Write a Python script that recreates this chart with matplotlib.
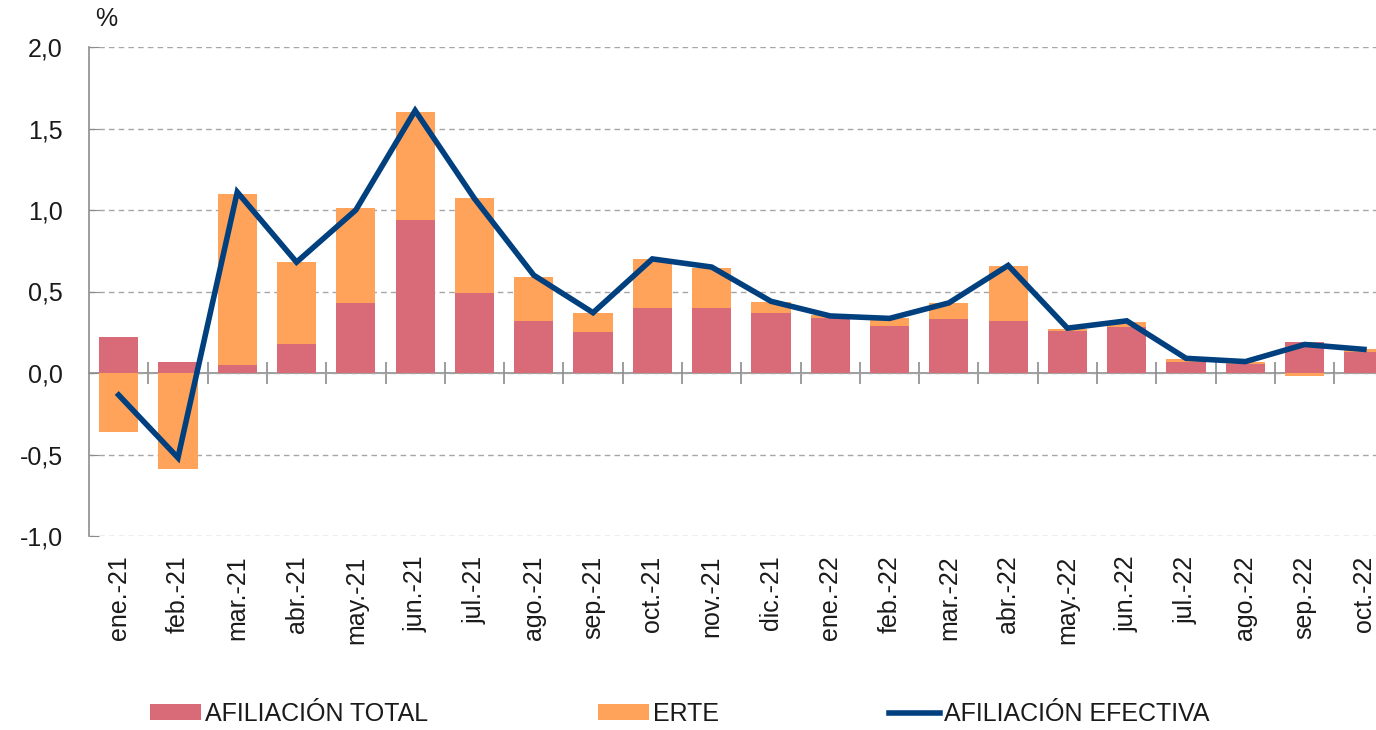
import numpy as np
import matplotlib
matplotlib.use('Agg')
import matplotlib.pyplot as plt
from matplotlib.ticker import FuncFormatter, FixedLocator

plt.rcParams['font.family'] = ['Liberation Sans', 'DejaVu Sans']

months = ['ene.-21', 'feb.-21', 'mar.-21', 'abr.-21', 'may.-21', 'jun.-21',
          'jul.-21', 'ago.-21', 'sep.-21', 'oct.-21', 'nov.-21', 'dic.-21',
          'ene.-22', 'feb.-22', 'mar.-22', 'abr.-22', 'may.-22', 'jun.-22',
          'jul.-22', 'ago.-22', 'sep.-22', 'oct.-22']
afiliacion_total = [0.22, 0.07, 0.05, 0.18, 0.43, 0.94, 0.49, 0.32, 0.25, 0.40,
                    0.40, 0.37, 0.34, 0.29, 0.33, 0.32, 0.26, 0.28, 0.065, 0.055,
                    0.19, 0.13]
erte = [-0.365, -0.59, 1.05, 0.50, 0.58, 0.66, 0.585, 0.27, 0.12, 0.30,
        0.245, 0.065, 0.014, 0.05, 0.10, 0.337, 0.012, 0.03, 0.02, 0.012,
        -0.018, 0.016]
afiliacion_efectiva = [-0.135, -0.52, 1.11, 0.68, 1.0, 1.61, 1.07, 0.60, 0.37,
                       0.70, 0.65, 0.44, 0.35, 0.335, 0.43, 0.66, 0.275, 0.32,
                       0.09, 0.07, 0.175, 0.145]

c_total = '#D96B79'
c_erte = '#FFA35A'
c_line = '#00407F'
c_axis = '#8C8C8C'
c_text = '#1A1A1A'
fs = 18

fig = plt.figure(figsize=(13.76, 7.30), dpi=100)
ax = fig.add_axes([89 / 1376, 194 / 730, 1304.6 / 1376, 489 / 730])

x = np.arange(len(months))
tot = np.array(afiliacion_total)
er = np.array(erte)
bottom_erte = np.where(er >= 0, np.maximum(tot, 0), np.minimum(tot, 0))

w = 0.66
ax.bar(x, tot, width=w, color=c_total, label='AFILIACIÓN TOTAL', zorder=2)
ax.bar(x, er, width=w, bottom=bottom_erte, color=c_erte, label='ERTE', zorder=2)
ax.plot(x, afiliacion_efectiva, color=c_line, lw=4.0, label='AFILIACIÓN EFECTIVA',
        zorder=3, solid_joinstyle='miter')

ax.set_xlim(-0.5, len(months) - 0.5)
ax.set_ylim(-1.0, 2.0)
ax.set_yticks(np.arange(-1.0, 2.01, 0.5))
ax.yaxis.set_major_formatter(FuncFormatter(lambda v, p: f'{v:.1f}'.replace('.', ',')))
ax.grid(axis='y', color='#A6A6A6', linestyle=(0, (4, 3)), linewidth=1.0, zorder=0)

ax.set_xticks(x)
ax.set_xticklabels(months, rotation=90, fontsize=fs, color=c_text)
ax.tick_params(axis='x', length=0, pad=14)
ax.tick_params(axis='y', labelsize=fs, labelcolor=c_text, direction='in',
               length=7, color=c_axis, pad=19)

for s in ['top', 'right', 'bottom']:
    ax.spines[s].set_visible(False)
ax.spines['left'].set_color(c_axis)
ax.spines['left'].set_linewidth(1.2)

# zero axis with category boundary ticks
zero = ax.secondary_xaxis(1 / 3)
zero.xaxis.set_major_locator(FixedLocator(x[:-1] + 0.5))
zero.tick_params(axis='x', direction='inout', length=16, color=c_axis, width=1.2,
                 labelbottom=False, labeltop=False)
zero.spines['bottom'].set_color(c_axis)
zero.spines['bottom'].set_linewidth(1.2)
zero.spines['top'].set_visible(False)

fig.text(106 / 1376, 1 - 18.5 / 730, '%', ha='center', va='center', fontsize=fs,
         color=c_text)

handles, labels = ax.get_legend_handles_labels()
order = [1, 2, 0]
fig.legend([handles[i] for i in order], [labels[i] for i in order],
           loc='center left', bbox_to_anchor=(150 / 1376, 1 - 714 / 730), ncol=3,
           frameon=False, fontsize=fs, handlelength=2.05, handleheight=0.62,
           handletextpad=0.15, columnspacing=6.8, labelcolor=c_text,
           borderaxespad=0, borderpad=0)

fig.savefig('out.png', dpi=100)
